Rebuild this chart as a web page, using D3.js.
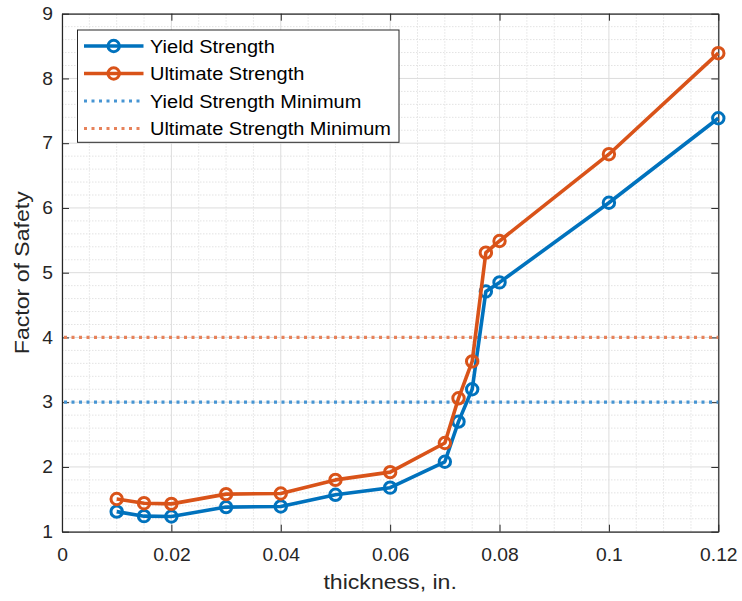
<!DOCTYPE html>
<html>
<head>
<meta charset="utf-8">
<script src="https://cdn.jsdelivr.net/npm/d3@7"></script>
<style>
  body { margin: 0; background: #fff; }
  svg { display: block; font-family: "Liberation Sans", Arial, sans-serif; }
</style>
</head>
<body>
<svg id="chart" width="742" height="601"></svg>
<script>
// Thickness values (in.)
const thickness = [0.01, 0.015, 0.02, 0.03, 0.04, 0.05, 0.06, 0.07, 0.0725, 0.075, 0.0775, 0.08, 0.1, 0.12];
// Factor of safety against yield and ultimate strength
const yieldFos =    [1.31, 1.24, 1.235, 1.38, 1.39, 1.57, 1.68, 2.08, 2.70, 3.20, 4.71, 4.85, 6.08, 7.385];
const ultimateFos = [1.505, 1.44, 1.43, 1.58, 1.59, 1.80, 1.92, 2.37, 3.06, 3.63, 5.31, 5.49, 6.83, 8.39];
// Required minimums
const yieldMin = 3;
const ultimateMin = 4;
const xTicks = [0, 0.02, 0.04, 0.06, 0.08, 0.1, 0.12];
const yTicks = [1, 2, 3, 4, 5, 6, 7, 8, 9];

const blue = "#0072BD", orange = "#D95319";
const blueDot = "#4795d3", orangeDot = "#e7825a";
const textColor = "#262626";
const stretch = 1.1; // slightly wide lettering

const margin = { left: 62, top: 13.7, right: 742 - 718.3, bottom: 601 - 531.7 };
const W = 742, H = 601;
const svg = d3.select("#chart");

const x = d3.scaleLinear().domain([0, 0.12]).range([margin.left, W - margin.right]);
const y = d3.scaleLinear().domain([1, 9]).range([H - margin.bottom, margin.top]);

const x0 = x.range()[0], x1 = x.range()[1], y0 = y.range()[0], y1 = y.range()[1];

// Minor grid
const xMinor = d3.range(0, 0.1201, 0.005).filter(v => Math.abs(v / 0.02 - Math.round(v / 0.02)) > 1e-6);
const yMinor = d3.range(1, 9.001, 0.2).filter(v => Math.abs(v - Math.round(v)) > 1e-6);
const grid = svg.append("g");
grid.selectAll(".xm").data(xMinor).join("line")
  .attr("x1", d => x(d)).attr("x2", d => x(d)).attr("y1", y0).attr("y2", y1)
  .attr("stroke", "#e3e3e3").attr("stroke-width", 1).attr("stroke-dasharray", "1.5,1.5");
grid.selectAll(".ym").data(yMinor).join("line")
  .attr("y1", d => y(d)).attr("y2", d => y(d)).attr("x1", x0).attr("x2", x1)
  .attr("stroke", "#e3e3e3").attr("stroke-width", 1).attr("stroke-dasharray", "1.5,1.5");
// Major grid
grid.selectAll(".xM").data(xTicks).join("line")
  .attr("x1", d => x(d)).attr("x2", d => x(d)).attr("y1", y0).attr("y2", y1)
  .attr("stroke", "#dcdcdc").attr("stroke-width", 1);
grid.selectAll(".yM").data(yTicks).join("line")
  .attr("y1", d => y(d)).attr("y2", d => y(d)).attr("x1", x0).attr("x2", x1)
  .attr("stroke", "#dcdcdc").attr("stroke-width", 1);

// Axes (ticks pointing inward, box on all four sides)
function styleAxis(g) {
  g.select(".domain").attr("stroke", textColor).attr("stroke-width", 1.2);
  g.selectAll(".tick line").attr("stroke", textColor).attr("stroke-width", 1);
  g.selectAll(".tick text").attr("fill", textColor).attr("font-size", 17.5)
    .attr("font-family", "Liberation Sans, Arial, sans-serif")
    .attr("transform", `scale(${stretch},1)`);
}
svg.append("g").attr("transform", `translate(0,${y0})`)
  .call(d3.axisBottom(x).tickValues(xTicks).tickFormat(d3.format("~g")).tickSizeInner(-7).tickSizeOuter(0).tickPadding(16.8))
  .call(styleAxis);
svg.append("g").attr("transform", `translate(0,${y1})`)
  .call(d3.axisTop(x).tickValues(xTicks).tickFormat("").tickSizeInner(-7).tickSizeOuter(0))
  .call(styleAxis);
svg.append("g").attr("transform", `translate(${x0},0)`)
  .call(d3.axisLeft(y).tickValues(yTicks).tickFormat(d3.format("d")).tickSizeInner(-7).tickSizeOuter(0).tickPadding(8.2))
  .call(styleAxis);
svg.append("g").attr("transform", `translate(${x1},0)`)
  .call(d3.axisRight(y).tickValues(yTicks).tickFormat("").tickSizeInner(-7).tickSizeOuter(0))
  .call(styleAxis);

// Minimum lines
const mins = [
  { v: yieldMin, c: blueDot },
  { v: ultimateMin, c: orangeDot }
];
svg.append("g").selectAll("line").data(mins).join("line")
  .attr("x1", x0 + 2).attr("x2", x1)
  .attr("y1", d => y(d.v)).attr("y2", d => y(d.v))
  .attr("stroke", d => d.c).attr("stroke-width", 3.2).attr("stroke-dasharray", "3,4.5");

// Data series
const series = [
  { vals: yieldFos, c: blue },
  { vals: ultimateFos, c: orange }
];
const line = d3.line().x(d => x(d[0])).y(d => y(d[1]));
series.forEach(s => {
  const pts = thickness.map((t, i) => [t, s.vals[i]]);
  const g = svg.append("g");
  g.append("path").datum(pts).attr("d", line)
    .attr("fill", "none").attr("stroke", s.c).attr("stroke-width", 3.6).attr("stroke-linejoin", "round");
  g.selectAll("circle").data(pts).join("circle")
    .attr("cx", d => x(d[0])).attr("cy", d => y(d[1])).attr("r", 5.7)
    .attr("fill", "none").attr("stroke", s.c).attr("stroke-width", 3);
});

// Axis labels
svg.append("g").attr("transform", `translate(${(x0 + x1) / 2},589) scale(${stretch},1)`)
  .append("text").attr("text-anchor", "middle")
  .attr("font-size", 21).attr("fill", textColor).text("thickness, in.");
svg.append("g").attr("transform", `translate(29,${(y0 + y1) / 2}) rotate(-90) scale(${stretch},1)`)
  .append("text").attr("text-anchor", "middle")
  .attr("font-size", 21).attr("fill", textColor).text("Factor of Safety");

// Legend
const legend = svg.append("g");
legend.append("rect").attr("x", 77.5).attr("y", 30).attr("width", 321.5).attr("height", 112.3)
  .attr("fill", "#fff").attr("stroke", textColor).attr("stroke-width", 1);
const items = [
  { label: "Yield Strength", c: blue, marker: true },
  { label: "Ultimate Strength", c: orange, marker: true },
  { label: "Yield Strength Minimum", c: blueDot, marker: false },
  { label: "Ultimate Strength Minimum", c: orangeDot, marker: false }
];
const rowY = [46, 73.5, 101, 128.5];
items.forEach((it, i) => {
  const ry = rowY[i];
  legend.append("line").attr("x1", 84).attr("x2", 143.5).attr("y1", ry).attr("y2", ry)
    .attr("stroke", it.c).attr("stroke-width", it.marker ? 3.6 : 3.2)
    .attr("stroke-dasharray", it.marker ? null : "3,4.5");
  if (it.marker) {
    legend.append("circle").attr("cx", 113.7).attr("cy", ry).attr("r", 5.7)
      .attr("fill", "none").attr("stroke", it.c).attr("stroke-width", 3);
  }
  legend.append("g").attr("transform", `translate(150,${ry + 6.6}) scale(1.08,1)`)
    .append("text").attr("font-size", 18.5).attr("fill", "#000").text(it.label);
});
</script>
</body>
</html>
